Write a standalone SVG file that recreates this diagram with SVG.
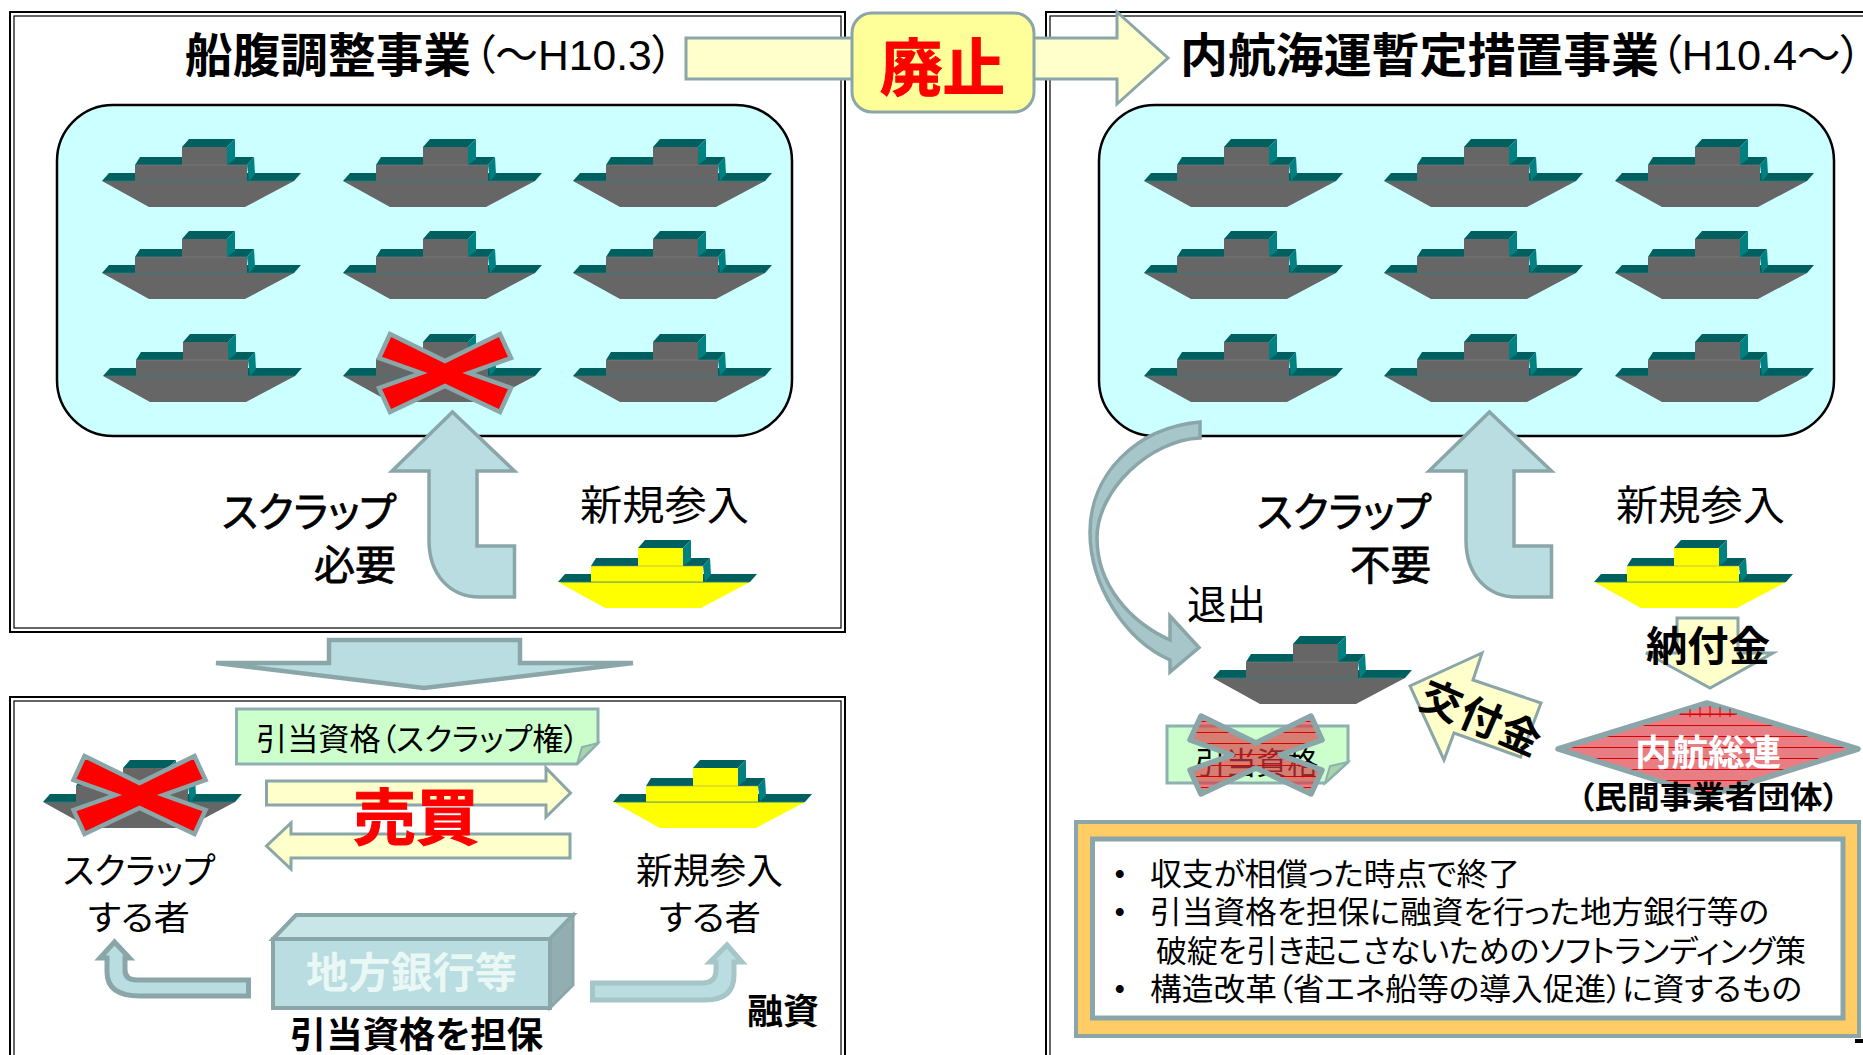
<svg xmlns="http://www.w3.org/2000/svg" width="1863" height="1055" viewBox="0 0 1863 1055">
<style>
text{font-family:"Liberation Sans","Noto Sans CJK JP",sans-serif;font-feature-settings:"palt";fill:#000}
.b{font-weight:700}
.m{stroke:#000;stroke-width:.8}
.red{fill:#f00;stroke:#f00;stroke-width:1;font-weight:700}
.frame{fill:none;stroke:#000;stroke-width:2}
.frame2{fill:none;stroke:#000;stroke-width:1.2}
.panel{fill:#cff;stroke:#000;stroke-width:2.5}
.blue{fill:#b9dde0;stroke:#8aa6a8;stroke-width:3.5;stroke-linejoin:miter}
.pale{fill:#ffc;stroke:#8aa6a8;stroke-width:3;stroke-linejoin:miter}
.note{fill:#cfc;stroke:#8fb0b0;stroke-width:3}
.fold{fill:#a8d4a8;stroke:#8fb0b0;stroke-width:2}
.xr{fill:#f00;stroke:#8aa6a8;stroke-width:4.5}
.xh{fill:url(#hatch);stroke:#8aa6a8;stroke-width:5.500;stroke-linejoin:round}
</style>
<defs>
<pattern id="hatch" width="6" height="11" patternUnits="userSpaceOnUse">
<rect width="6" height="11" fill="#db3b44" fill-opacity=".66"/>
<rect y="10" width="6" height="1" fill="#d80000"/>
</pattern>
<g id="ship">
<polygon points="0,42 7,34 199,34 192,42" fill="#006060"/>
<polygon points="0,42 192,42 143,68 47,68" fill="currentColor"/>
<polygon points="33,26 38,18 152,18 145,26" fill="#006060"/>
<polygon points="145,26 152,18 153,35 147,42" fill="#008080"/>
<rect x="33" y="26" width="112" height="16" fill="currentColor"/>
<polygon points="80,8 87,0 133,0 125,8" fill="#006060"/>
<polygon points="125,8 133,0 133,20 125,26" fill="#008080"/>
<rect x="80" y="8" width="45" height="18" fill="currentColor"/>
<rect x="3" y="41.500" width="188" height="1.200" fill="#2f7f7f" fill-opacity=".7"/>
<rect x="33" y="25.500" width="112" height="1" fill="#888" fill-opacity=".5"/>
</g>
<polygon id="cross" points="-55,-39 0,-12 55,-39 66,-15 24,0 66,15 55,39 0,13 -55,39 -66,15 -24,0 -66,-15"/>
</defs>
<rect width="1863" height="1055" fill="#fff"/>

<g id="frames">
<rect class="frame" x="10" y="12" width="835" height="620"/><rect class="frame2" x="14" y="16" width="827" height="612"/>
<rect class="frame" x="10" y="697" width="835" height="420"/><rect class="frame2" x="14" y="701" width="827" height="420"/>
<rect class="frame" x="1046" y="12" width="900" height="1100"/><rect class="frame2" x="1050" y="16" width="900" height="1100"/>
</g>

<g id="panel-left">
<rect class="panel" x="57" y="105" width="735" height="331" rx="56"/>
<use href="#ship" x="102" y="139" color="#666"/><use href="#ship" x="343" y="139" color="#666"/><use href="#ship" x="573" y="139" color="#666"/>
<use href="#ship" x="102" y="231" color="#666"/><use href="#ship" x="343" y="231" color="#666"/><use href="#ship" x="573" y="231" color="#666"/>
<use href="#ship" x="103" y="334" color="#666"/><use href="#ship" x="343" y="334" color="#666"/><use href="#ship" x="573" y="334" color="#666"/>
<use href="#cross" x="445" y="373" class="xr"/>
</g>
<g id="panel-right">
<rect class="panel" x="1099" y="105" width="735" height="331" rx="56"/>
<use href="#ship" x="1144" y="139" color="#666"/><use href="#ship" x="1384" y="139" color="#666"/><use href="#ship" x="1615" y="139" color="#666"/>
<use href="#ship" x="1144" y="231" color="#666"/><use href="#ship" x="1384" y="231" color="#666"/><use href="#ship" x="1615" y="231" color="#666"/>
<use href="#ship" x="1144" y="334" color="#666"/><use href="#ship" x="1384" y="334" color="#666"/><use href="#ship" x="1615" y="334" color="#666"/>
</g>

<g id="connectors">
<polygon class="pale" points="686,38 1117,38 1117,12 1168,58 1117,104 1117,79 686,79"/>
<path class="blue" d="M452.500,412L514.500,471H477V546H514.500V597H480C450,597 429,575 429,540V471H392Z"/>
<path class="blue" d="M1489.500,412L1551.500,471H1514V546H1551.500V597H1517C1487,597 1466,575 1466,540V471H1429Z"/>
<polygon class="blue" style="stroke-width:4.500" points="329,640 520,640 520,663 633,663 424,688 216,663 329,663"/>
<polygon class="pale" points="266.500,781 546,781 546,768 570.500,793 546,817 546,805 266.500,805"/>
<polygon class="pale" points="570,834 291,834 291,823 266.500,846 291,869 291,858 570,858"/>
<path class="blue" style="stroke-width:5" d="M248.500,980V996H140Q107,996 107,972V958H100L114.500,942L129.500,958H125V970Q125,980 137,980Z"/>
<path class="blue" style="stroke:#a5c5c6;stroke-width:5" d="M592.500,983H702Q716,983 716,970V962H710L727,945L742,962H734V975Q734,1000 705,1000H592.500Z"/>
<path class="blue" style="fill:#a6c6c9" d="M1200,422C1135,428 1090,475 1090,532C1090,585 1125,640 1170,660V672L1199,647.500L1170,616V640C1130,622 1097,585 1097,538C1097,490 1150,440 1200,438Z"/>
<polygon class="pale" points="1677,618 1738,618 1738,653 1773,653 1710,688 1646,653 1677,653"/>
<polygon class="pale" points="1482,653 1473,680 1541,703 1520.600,757 1454,733 1444,760 1410,686"/>
</g>

<g id="title-left">
<text class="b" x="185" y="72" font-size="47" textLength="286" lengthAdjust="spacingAndGlyphs">船腹調整事業</text>
<text x="474" y="70" font-size="42" textLength="199" lengthAdjust="spacingAndGlyphs">（～H10.3）</text>
</g>
<g id="title-right">
<text class="b" x="1180" y="72" font-size="47" textLength="479" lengthAdjust="spacingAndGlyphs">内航海運暫定措置事業</text>
<text x="1660" y="70" font-size="42" textLength="202" lengthAdjust="spacingAndGlyphs">（H10.4～）</text>
</g>
<g id="abolish">
<rect x="852" y="13" width="182" height="99" rx="20" fill="#ff9" stroke="#8aa6a8" stroke-width="3"/>
<text class="red" x="880" y="91" font-size="62" textLength="125" lengthAdjust="spacingAndGlyphs">廃止</text>
</g>

<g id="scrap-left">
<text class="m" x="222" y="527" font-size="41" textLength="174" lengthAdjust="spacingAndGlyphs">スクラップ</text>
<text class="m" x="314" y="580" font-size="41" textLength="82" lengthAdjust="spacingAndGlyphs">必要</text>
</g>
<g id="entry-left">
<text x="580" y="520" font-size="41" textLength="169" lengthAdjust="spacingAndGlyphs">新規参入</text>
<use href="#ship" x="558" y="540" color="#ff0"/>
</g>
<g id="scrap-right">
<text class="m" x="1257" y="527" font-size="41" textLength="174" lengthAdjust="spacingAndGlyphs">スクラップ</text>
<text class="m" x="1350" y="580" font-size="41" textLength="81" lengthAdjust="spacingAndGlyphs">不要</text>
</g>
<g id="entry-right">
<text x="1616" y="520" font-size="41" textLength="169" lengthAdjust="spacingAndGlyphs">新規参入</text>
<use href="#ship" x="1594" y="540" color="#ff0"/>
</g>
<g id="exit">
<text x="1187" y="619" font-size="40" textLength="79" lengthAdjust="spacingAndGlyphs">退出</text>
<use href="#ship" x="1213" y="636" color="#666"/>
</g>
<g id="voided-right">
<path class="note" d="M1167,726H1348V762L1325,783H1167Z"/>
<path class="fold" d="M1325,783L1330,766L1348,762Z"/>
<text x="1195" y="774" font-size="31" textLength="123" lengthAdjust="spacingAndGlyphs">引当資格</text>
<use href="#cross" x="1256" y="755" class="xh"/>
</g>
<text class="b" x="1646" y="661" font-size="41" textLength="124" lengthAdjust="spacingAndGlyphs">納付金</text>
<text class="b" font-size="41" letter-spacing="2" text-anchor="middle" transform="translate(1476,732) rotate(23)">交付金</text>
<g id="federation">
<polygon class="xh" points="1558,749 1707,703 1858,749 1707,796"/>
<path d="M1680,714H1737M1690,709V717M1700,707V717M1710,706V717M1720,707V717M1730,709V717" fill="none" stroke="#d80000" stroke-width="1"/>
<text class="b" x="1635" y="766" font-size="36" textLength="146" lengthAdjust="spacingAndGlyphs" style="fill:#fff">内航総連</text>
<text class="b" x="1578" y="808" font-size="31" textLength="261" lengthAdjust="spacingAndGlyphs">（民間事業者団体）</text>
</g>
<g id="info">
<rect x="1076" y="822" width="783" height="214" fill="#fc6" stroke="#8aa6a8" stroke-width="4"/>
<rect x="1092.500" y="839" width="750.500" height="179" fill="#fff" stroke="#8aa6a8" stroke-width="5"/>
<text class="b" x="1112" y="885" font-size="31">・</text>
<text x="1150" y="885" font-size="31" textLength="370" lengthAdjust="spacingAndGlyphs">収支が相償った時点で終了</text>
<text class="b" x="1112" y="923" font-size="31">・</text>
<text x="1150" y="923" font-size="31" textLength="619" lengthAdjust="spacingAndGlyphs">引当資格を担保に融資を行った地方銀行等の</text>
<text x="1156" y="962" font-size="31" textLength="650" lengthAdjust="spacingAndGlyphs">破綻を引き起こさないためのソフトランディング策</text>
<text class="b" x="1112" y="1000" font-size="31">・</text>
<text x="1150" y="1000" font-size="31" textLength="652" lengthAdjust="spacingAndGlyphs">構造改革（省エネ船等の導入促進）に資するもの</text>
</g>
<rect x="1855" y="1039" width="8" height="4" fill="#000"/>

<g id="quota-note">
<path class="note" d="M236.500,709H598V743L577,764H236.500Z"/>
<path class="fold" d="M577,764L582,747L598,743Z"/>
<text x="256" y="750" font-size="31" textLength="323" lengthAdjust="spacingAndGlyphs">引当資格（スクラップ権）</text>
</g>
<text class="red" x="353" y="840" font-size="61" textLength="126" lengthAdjust="spacingAndGlyphs">売買</text>
<g id="seller">
<use href="#ship" x="43" y="760" color="#666"/>
<use href="#cross" x="139.500" y="795" class="xr"/>
<text x="63" y="884" font-size="36" textLength="152" lengthAdjust="spacingAndGlyphs">スクラップ</text>
<text x="88" y="930" font-size="34" textLength="102" lengthAdjust="spacingAndGlyphs">する者</text>
</g>
<g id="buyer">
<use href="#ship" x="613" y="760" color="#ff0"/>
<text x="636" y="884" font-size="36" textLength="147" lengthAdjust="spacingAndGlyphs">新規参入</text>
<text x="659" y="930" font-size="34" textLength="102" lengthAdjust="spacingAndGlyphs">する者</text>
</g>
<g id="bank">
<polygon points="273,939 296,915 573,915 550,939" fill="#c8e6e8" stroke="#8aa6a8" stroke-width="4"/>
<polygon points="550,939 573,915 573,985 550,1008" fill="#93aeb0" stroke="#8aa6a8" stroke-width="3"/>
<rect x="273" y="939" width="277" height="69" fill="#b9dde0" stroke="#8aa6a8" stroke-width="4"/>
<text class="b" x="306" y="988" font-size="42" textLength="211" lengthAdjust="spacingAndGlyphs" style="fill:#e9f7f5">地方銀行等</text>
</g>
<text class="b" x="290" y="1048" font-size="36" textLength="253" lengthAdjust="spacingAndGlyphs">引当資格を担保</text>
<text class="b" x="747" y="1024" font-size="35" textLength="72" lengthAdjust="spacingAndGlyphs">融資</text>
</svg>
